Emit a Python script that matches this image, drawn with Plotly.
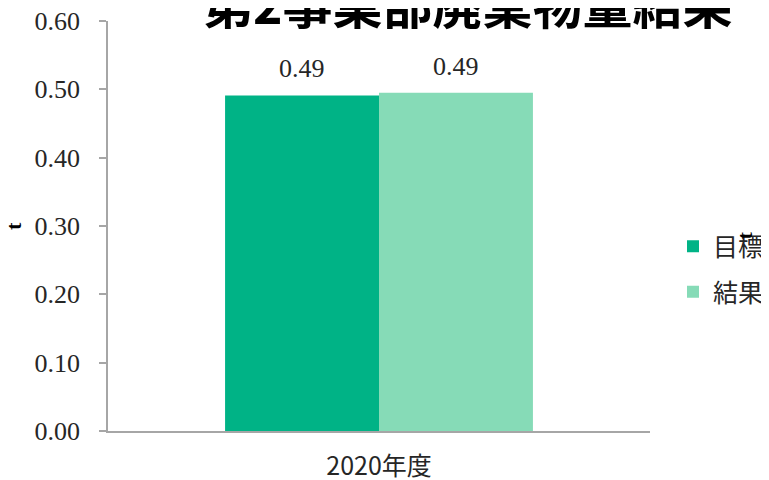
import plotly.graph_objects as go

categories = ["2020年度"]
target_vals = [0.491]
result_vals = [0.495]
series_names = ["目標", "結果"]
title_text = "第2事業部廃棄物量結果"
y_title = "t"
y_ticks = [0.0, 0.1, 0.2, 0.3, 0.4, 0.5, 0.6]
y_ticklabels = ["0.00", "0.10", "0.20", "0.30", "0.40", "0.50", "0.60"]

serif = "Liberation Serif, Times New Roman, serif"
cjk = "Noto Sans CJK JP, Noto Sans, sans-serif"

W, H = 769, 480
ML, MT = 100, 13
plot_w, plot_h = 542, 410
MR = W - ML - plot_w
MB = H - MT - plot_h
BARGAP = 0.432
bar_px = plot_w * (1 - BARGAP) / 2

fig = go.Figure()
fig.add_trace(go.Bar(
    x=categories, y=target_vals, name=series_names[0], legendgroup="a",
    marker=dict(color="#00B386", line=dict(width=0)),
))
fig.add_trace(go.Bar(
    x=categories, y=result_vals, name=series_names[1], legendgroup="b",
    marker=dict(color="#86DBB7", line=dict(width=0)),
))

for vals, sign in ((target_vals, -1), (result_vals, 1)):
    for c, v in zip(categories, vals):
        fig.add_annotation(
            x=c, y=v, xref="x", yref="y", text=f"{v:.2f}", showarrow=False,
            xanchor="center", yanchor="bottom", xshift=sign * bar_px / 2, yshift=10,
            font=dict(family=serif, size=26, color="#262626"),
        )

# title (partly above the page top, as in the reference)
fig.add_annotation(
    text=f"<b>{title_text}</b>", xref="paper", yref="paper",
    x=(460 - ML) / plot_w, y=1 + (MT + 6) / plot_h, xanchor="center", yanchor="middle",
    showarrow=False, font=dict(family=cjk, size=50, color="#000000"),
)

fig.update_layout(
    width=W, height=H,
    margin=dict(l=ML, r=MR, t=MT, b=MB, autoexpand=False),
    paper_bgcolor="white", plot_bgcolor="white",
    barmode="group", bargap=BARGAP, bargroupgap=0,
    showlegend=True,
    legend=dict(x=(665 - ML) / plot_w, xanchor="left", y=0.395, yanchor="middle",
                font=dict(family=cjk, size=25, color="#262626"),
                itemwidth=30, tracegroupgap=10, bgcolor="rgba(0,0,0,0)"),
)
fig.update_yaxes(
    range=[0, 0.6], tickvals=y_ticks, ticktext=y_ticklabels,
    showline=True, linecolor="#A6A6A6", linewidth=1.5,
    ticks="outside", ticklen=7, tickcolor="#A6A6A6", tickwidth=1.5,
    ticklabelstandoff=14, automargin=False, ticklabeloverflow="allow",
    tickfont=dict(family=serif, size=26, color="#262626"),
    showgrid=False, zeroline=False,
)
fig.update_xaxes(
    showline=True, linecolor="#A6A6A6", linewidth=1.5, automargin=False,
    ticks="", tickfont=dict(family=cjk, size=25, color="#262626"),
    ticklabelstandoff=12, showgrid=False, ticklabeloverflow="allow",
)
# y-axis title
fig.add_annotation(
    text=f"<b>{y_title}</b>", xref="paper", yref="paper", x=(5 - ML) / plot_w, y=0.5,
    xanchor="center", yanchor="middle", showarrow=False, textangle=-90,
    font=dict(family=serif, size=22, color="#000000"),
)
# stray rotated "t" near the legend, as in the reference
fig.add_annotation(
    text=f"<b>{y_title}</b>", xref="paper", yref="paper", x=(750 - ML) / plot_w, y=(423 - 228) / plot_h,
    showarrow=False, textangle=-90,
    font=dict(family=serif, size=22, color="#000000"),
)

fig.write_html("out.html")
